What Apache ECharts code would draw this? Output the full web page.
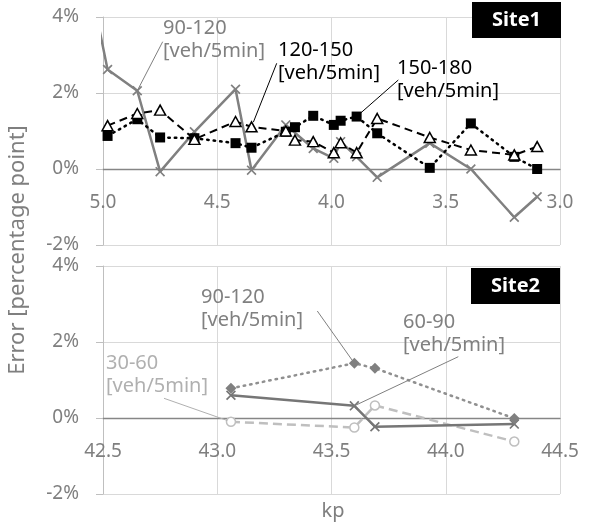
<!DOCTYPE html>
<html><head><meta charset="utf-8">
<script src="https://cdn.jsdelivr.net/npm/echarts@6/dist/echarts.min.js"></script>
<style>html,body{margin:0;padding:0;background:#fff;}#c{width:589px;height:529px;}</style>
</head><body><div id="c"></div>
<script>
// ---- data ----
const site1Kp = [4.98, 4.85, 4.75, 4.60, 4.42, 4.35, 4.20, 4.16, 4.08, 3.99, 3.96, 3.89, 3.80, 3.57, 3.39, 3.20, 3.10];
const s1_90_120 = [2.62, 2.06, -0.07, 0.98, 2.10, -0.03, 1.16, null, 0.54, 0.28, 0.72, 0.32, -0.22, 0.68, 0.00, -1.27, -0.73];
const s1_90_120_lead = [5.02, 3.8]; // point just outside the axis range (clipped)
const s1_120_150 = [1.14, 1.46, 1.55, 0.78, 1.25, 1.11, 1.00, 0.76, 0.72, 0.43, 0.69, 0.43, 1.33, 0.83, 0.50, 0.37, 0.59];
const s1_150_180 = [0.87, 1.31, 0.83, 0.81, 0.68, 0.56, 0.98, 1.10, 1.40, 1.16, 1.27, 1.38, 0.94, 0.03, 1.20, 0.32, 0.00];
const site2Kp = [43.06, 43.60, 43.69, 44.30];
const s2_90_120 = [0.78, 1.44, 1.31, -0.01];
const s2_60_90 = [0.60, 0.32, -0.23, -0.16];
const s2_30_60 = [-0.10, -0.25, 0.33, -0.62];
const yTicks = [-2, 0, 2, 4];
const site1XTicks = [3.0, 3.5, 4.0, 4.5, 5.0];
const site2XTicks = [42.5, 43.0, 43.5, 44.0, 44.5];

function pairs(xs, ys) { const out = []; xs.forEach((x, i) => { if (ys[i] !== null) out.push([x, ys[i]]); }); return out; }

const FONT = 'Noto Sans';
const XPATH = 'path://M0,1.2 L1.2,0 L5,3.8 L8.8,0 L10,1.2 L6.2,5 L10,8.8 L8.8,10 L5,6.2 L1.2,10 L0,8.8 L3.8,5 Z';
const GRID_H = 228;
// distance from bottom of plot to the 0% line
const ZERO_OFFSET = GRID_H * (0 - yTicks[0]) / (yTicks[yTicks.length - 1] - yTicks[0]);

function yAxisCfg(gi) {
  return {
    gridIndex: gi, type: 'value', min: yTicks[0], max: yTicks[yTicks.length - 1], interval: 2,
    axisLine: { show: true, onZero: false, lineStyle: { color: '#bfbfbf', width: 1 } },
    axisTick: { show: true, length: 7, lineStyle: { color: '#bfbfbf' } },
    splitLine: { show: true, lineStyle: { color: '#d9d9d9', width: 1 } },
    axisLabel: { formatter: '{value}%', color: '#7f7f7f', fontSize: 19, fontFamily: FONT, margin: 24 }
  };
}
function xAxisCfg(gi, ticks, inverse) {
  return {
    gridIndex: gi, type: 'value', position: 'bottom', offset: -ZERO_OFFSET,
    min: ticks[0], max: ticks[ticks.length - 1], interval: 0.5, inverse: inverse,
    axisLine: { show: true, onZero: false, lineStyle: { color: '#868686', width: 1.3 } },
    axisTick: { show: false },
    splitLine: { show: true, lineStyle: { color: '#d9d9d9', width: 1 } },
    axisLabel: { formatter: v => v.toFixed(1), color: '#7f7f7f', fontSize: 19, fontFamily: FONT, margin: 24, showMinLabel: true, showMaxLabel: true }
  };
}

const chart = echarts.init(document.getElementById('c'), null, { renderer: 'canvas' });
const gray1Data = [{ value: s1_90_120_lead, symbol: 'none' }].concat(pairs(site1Kp, s1_90_120));
chart.setOption({
  animation: false,
  backgroundColor: '#fff',
  grid: [
    { left: 103, top: 17, width: 457, height: GRID_H },
    { left: 103, top: 266, width: 457, height: GRID_H }
  ],
  xAxis: [xAxisCfg(0, site1XTicks, true), xAxisCfg(1, site2XTicks, false)],
  yAxis: [yAxisCfg(0), yAxisCfg(1)],
  series: [
    { name: 'S1 90-120', type: 'line', xAxisIndex: 0, yAxisIndex: 0, data: gray1Data, clip: true,
      symbol: XPATH, symbolSize: 10, itemStyle: { color: '#808080' },
      lineStyle: { color: '#808080', width: 2.5 }, z: 2 },
    { name: 'S1 150-180', type: 'line', xAxisIndex: 0, yAxisIndex: 0, data: pairs(site1Kp, s1_150_180),
      symbol: 'rect', symbolSize: 10, itemStyle: { color: '#000' },
      lineStyle: { color: '#000', width: 2.5, type: [1.5, 5], cap: 'round' }, z: 3 },
    { name: 'S1 120-150', type: 'line', xAxisIndex: 0, yAxisIndex: 0, data: pairs(site1Kp, s1_120_150),
      symbol: 'triangle', symbolSize: [11, 10], itemStyle: { color: '#fff', borderColor: '#000', borderWidth: 1.5 },
      lineStyle: { color: '#000', width: 2, type: [8, 5] }, z: 4 },
    { name: 'S2 30-60', type: 'line', xAxisIndex: 1, yAxisIndex: 1, data: pairs(site2Kp, s2_30_60),
      symbol: 'circle', symbolSize: 9, itemStyle: { color: '#fff', borderColor: '#bfbfbf', borderWidth: 1.5 },
      lineStyle: { color: '#bfbfbf', width: 2.5, type: [9, 5] }, z: 2 },
    { name: 'S2 60-90', type: 'line', xAxisIndex: 1, yAxisIndex: 1, data: pairs(site2Kp, s2_60_90),
      symbol: XPATH, symbolSize: 10, itemStyle: { color: '#767676' },
      lineStyle: { color: '#767676', width: 2.5 }, z: 3 },
    { name: 'S2 90-120', type: 'line', xAxisIndex: 1, yAxisIndex: 1, data: pairs(site2Kp, s2_90_120),
      symbol: 'diamond', symbolSize: 11, itemStyle: { color: '#808080' },
      lineStyle: { color: '#909090', width: 2.5, type: [1.5, 5], cap: 'round' }, z: 4 }
  ]
});

// ---- annotations ----
function pt(gi, x, y) { return chart.convertToPixel({ gridIndex: gi }, [x, y]); }
function leader(from, gi, x, y, color, shrink) {
  const p = pt(gi, x, y);
  const dx = p[0] - from[0], dy = p[1] - from[1], L = Math.hypot(dx, dy);
  const k = (L - shrink) / L;
  return { type: 'line', z: 10, silent: true,
    shape: { x1: from[0], y1: from[1], x2: from[0] + dx * k, y2: from[1] + dy * k },
    style: { stroke: color, lineWidth: 1 } };
}
function label(x, y, t1, color) {
  return { type: 'text', z: 10, silent: true, style: { x: x, y: y, text: t1 + '\n[veh/5min]', fill: color,
    font: '20px "' + FONT + '"', lineHeight: 23, textAlign: 'left', textVerticalAlign: 'top' } };
}
function siteBox(x, y, w, h, t) {
  return [
    { type: 'rect', z: 10, silent: true, shape: { x: x, y: y, width: w, height: h }, style: { fill: '#000' } },
    { type: 'text', z: 11, silent: true, style: { x: x + w / 2, y: y + h / 2, text: t, fill: '#fff',
      font: 'bold 20px "' + FONT + '"', textAlign: 'center', textVerticalAlign: 'middle' } }
  ];
}
const graphics = [];
graphics.push(label(163, 17, '90-120', '#808080'));
graphics.push(leader([162.7, 41.7], 0, site1Kp[1], s1_90_120[1], '#808080', 0));
graphics.push(label(278, 39, '120-150', '#000'));
graphics.push(leader([276.7, 63.3], 0, site1Kp[5], s1_120_150[5], '#000', 5));
graphics.push(label(397, 57, '150-180', '#000'));
graphics.push(leader([398.3, 80], 0, site1Kp[11], s1_150_180[11], '#000', 4));
graphics.push(label(201, 286, '90-120', '#808080'));
graphics.push(leader([317.3, 311], 1, site2Kp[1], s2_90_120[1], '#808080', 4));
graphics.push(label(403, 311, '60-90', '#808080'));
graphics.push(leader([458.3, 356.7], 1, site2Kp[1], s2_60_90[1], '#808080', 0));
graphics.push(label(106, 352, '30-60', '#b0b0b0'));
graphics.push(leader([164, 398.3], 1, site2Kp[0], s2_30_60[0], '#b0b0b0', 4));
graphics.push(...siteBox(472, 2, 89, 36, 'Site1'));
graphics.push(...siteBox(471, 268, 89, 36, 'Site2'));
graphics.push({ type: 'text', z: 10, silent: true, rotation: Math.PI / 2, x: 18, y: 250,
  style: { x: 0, y: 0, text: 'Error [percentage point]', fill: '#7f7f7f', font: '22px "' + FONT + '"', textAlign: 'center', textVerticalAlign: 'middle' } });
graphics.push({ type: 'text', z: 10, silent: true, style: { x: 333, y: 511, text: 'kp', fill: '#7f7f7f', font: '20px "' + FONT + '"', textAlign: 'center', textVerticalAlign: 'middle' } });
chart.setOption({ graphic: graphics });
</script></body></html>
